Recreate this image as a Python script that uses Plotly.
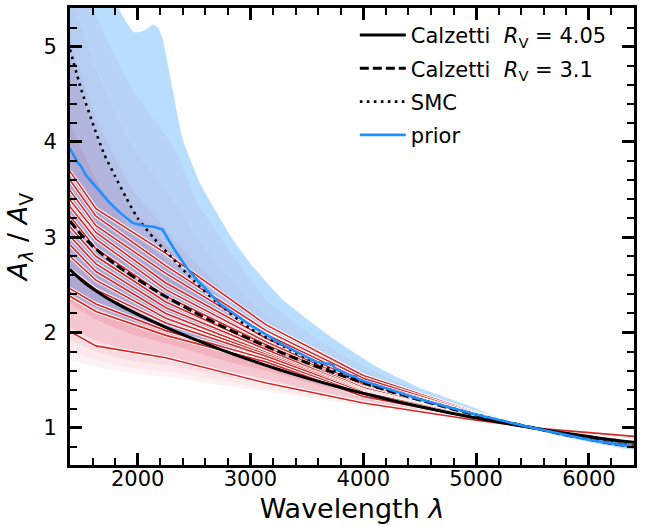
import plotly.graph_objects as go

# ---------------- data ----------------
# Calzetti curves, A_lambda / A_V
cal_wave = [1400, 1500, 1600, 1700, 1800, 1900, 2000, 2200, 2500, 2750, 3000, 3250,
            3500, 3750, 4000, 4250, 4500, 4750, 5000, 5250, 5500, 5750, 6000, 6200, 6400]
cal_405 = [2.661, 2.551, 2.462, 2.384, 2.314, 2.251, 2.191, 2.080, 1.930, 1.815, 1.710, 1.612,
           1.522, 1.439, 1.362, 1.290, 1.223, 1.161, 1.104, 1.050, 1.000, 0.952, 0.908, 0.875, 0.848]
cal_31 = [3.170, 3.027, 2.910, 2.808, 2.717, 2.634, 2.556, 2.411, 2.215, 2.065, 1.927, 1.799,
          1.683, 1.574, 1.473, 1.379, 1.292, 1.211, 1.135, 1.065, 1.000, 0.937, 0.880, 0.836, 0.801]

# SMC curve
smc_wave = [1400, 1500, 1600, 1700, 1800, 1900, 2000, 2150, 2300, 2500, 2700, 3000, 3300,
            3600, 4000, 4500, 5000, 5500, 6000, 6400]
smc_val = [4.97, 4.55, 4.20, 3.88, 3.64, 3.41, 3.20, 2.98, 2.79, 2.54, 2.32, 2.04, 1.85,
           1.67, 1.48, 1.30, 1.14, 1.00, 0.885, 0.81]

# prior median
prior_wave = [1400, 1430, 1470, 1500, 1542, 1600, 1650, 1700, 1745, 1850, 1955, 2056, 2144,
              2220, 2310, 2428, 2543, 2720, 2995, 3288, 3586, 3700, 3731, 3745, 3763, 3800,
              3881, 3930, 3960, 4030, 4500, 5000, 5500, 6000, 6400]
prior_med = [3.93, 3.86, 3.78, 3.74, 3.65, 3.57, 3.50, 3.44, 3.37, 3.25, 3.15, 3.12, 3.11,
             3.08, 2.90, 2.69, 2.53, 2.31, 2.08, 1.87, 1.69, 1.67, 1.66, 1.63, 1.61, 1.60,
             1.55, 1.54, 1.51, 1.48, 1.30, 1.14, 1.00, 0.875, 0.80]

# prior envelope
prior_hi_wave = [1400, 1600, 1837, 1970, 2060, 2133, 2180, 2221, 2310, 2399, 2552, 2847,
                 2995, 3290, 3704, 4118, 4500, 4916, 5388, 5800, 6400]
prior_hi = [7.6, 6.4, 5.39, 5.15, 5.17, 5.23, 5.20, 5.08, 4.55, 4.03, 3.57, 2.97,
            2.73, 2.34, 1.96, 1.64, 1.42, 1.24, 1.03, 0.90, 0.775]
prior_lo_wave = [1400, 1630, 2000, 2250, 2550, 3140, 3600, 4000, 4500, 5000, 5500, 6000, 6400]
prior_lo = [2.41, 2.26, 2.10, 2.02, 1.90, 1.68, 1.52, 1.40, 1.26, 1.13, 1.00, 0.87, 0.83]

# posterior envelopes (nested, outer to inner)
post_wave = [1400, 1630, 1955, 2310, 2552, 2850, 3143, 3600, 4000, 4500, 5000, 5500, 6000, 6400]
post1_hi = [6.4, 5.32, 4.55, 3.96, 3.32, 2.80, 2.34, 1.92, 1.65, 1.38, 1.18, 1.0, 0.86, 0.79]
post1_lo = [1.71, 1.64, 1.57, 1.53, 1.48, 1.43, 1.38, 1.30, 1.23, 1.15, 1.08, 1.0, 0.93, 0.90]
post2_hi = [5.6, 4.75, 3.95, 3.40, 2.95, 2.52, 2.16, 1.80, 1.57, 1.34, 1.16, 1.0, 0.87, 0.80]
post2_lo = [1.80, 1.71, 1.63, 1.58, 1.53, 1.47, 1.41, 1.32, 1.25, 1.16, 1.08, 1.0, 0.925, 0.895]
post3_hi = [5.1, 4.25, 3.50, 3.00, 2.68, 2.34, 2.06, 1.74, 1.53, 1.32, 1.15, 1.0, 0.875, 0.81]
post3_lo = [1.92, 1.80, 1.70, 1.65, 1.59, 1.52, 1.46, 1.35, 1.27, 1.17, 1.09, 1.0, 0.92, 0.89]
post4_hi = [4.9, 4.05, 3.30, 2.85, 2.56, 2.25, 2.00, 1.70, 1.50, 1.30, 1.14, 1.0, 0.88, 0.815]
post4_lo = [2.05, 1.92, 1.80, 1.73, 1.66, 1.58, 1.51, 1.38, 1.29, 1.18, 1.09, 1.0, 0.915, 0.885]
post5_hi = [4.2, 3.60, 3.05, 2.70, 2.45, 2.17, 1.95, 1.67, 1.48, 1.29, 1.14, 1.0, 0.885, 0.82]
post5_lo = [2.30, 2.14, 1.98, 1.87, 1.78, 1.68, 1.60, 1.45, 1.33, 1.20, 1.10, 1.0, 0.91, 0.88]

# posterior sample curves (red)
sample_wave = [1400, 1630, 2250, 3140, 4000, 5000, 5500, 6400]
samples = [
    [3.69, 3.30, 2.83, 2.08, 1.55, 1.16, 1.0, 0.86],
    [3.60, 3.22, 2.70, 2.02, 1.52, 1.15, 1.0, 0.865],
    [3.49, 3.12, 2.62, 1.98, 1.49, 1.14, 1.0, 0.87],
    [3.39, 3.05, 2.52, 1.94, 1.47, 1.14, 1.0, 0.875],
    [3.32, 2.98, 2.45, 1.90, 1.45, 1.13, 1.0, 0.875],
    [3.22, 2.88, 2.38, 1.87, 1.43, 1.13, 1.0, 0.88],
    [3.11, 2.80, 2.32, 1.84, 1.42, 1.12, 1.0, 0.88],
    [3.01, 2.72, 2.26, 1.82, 1.40, 1.12, 1.0, 0.885],
    [2.92, 2.64, 2.20, 1.79, 1.39, 1.12, 1.0, 0.885],
    [2.80, 2.55, 2.15, 1.77, 1.38, 1.11, 1.0, 0.89],
    [2.66, 2.45, 2.10, 1.75, 1.37, 1.11, 1.0, 0.89],
    [2.46, 2.30, 2.02, 1.72, 1.35, 1.10, 1.0, 0.895],
    [2.38, 2.22, 1.97, 1.69, 1.33, 1.10, 1.0, 0.90],
    [2.01, 1.86, 1.735, 1.47, 1.26, 1.08, 1.0, 0.91],
]

x_ticks = [2000, 3000, 4000, 5000, 6000]
y_ticks = [1, 2, 3, 4, 5]

# ---------------- figure ----------------
FONT = "DejaVu Sans"
fig = go.Figure()


def band(wlo, lo, whi, hi, color):
    fig.add_trace(go.Scatter(
        x=list(wlo) + list(whi)[::-1], y=list(lo) + list(hi)[::-1],
        fill="toself", fillcolor=color, mode="lines",
        line=dict(width=0, shape="spline", smoothing=0.5),
        hoverinfo="skip", showlegend=False))


post_bands = [(post1_lo, post1_hi, 0.07), (post2_lo, post2_hi, 0.05), (post3_lo, post3_hi, 0.08),
              (post4_lo, post4_hi, 0.13), (post5_lo, post5_hi, 0.16)]
for lo, hi, a in post_bands:
    band(post_wave, lo, post_wave, hi, f"rgba(225,70,100,{a})")

band(prior_lo_wave, prior_lo, prior_hi_wave, prior_hi, "rgba(30,144,255,0.31)")

for s in samples:
    fig.add_trace(go.Scatter(x=sample_wave, y=s, mode="lines",
                             line=dict(color="white", width=3.6),
                             hoverinfo="skip", showlegend=False))
    fig.add_trace(go.Scatter(x=sample_wave, y=s, mode="lines",
                             line=dict(color="#d62728", width=1.6),
                             hoverinfo="skip", showlegend=False))

fig.add_trace(go.Scatter(x=cal_wave, y=cal_405, mode="lines", legendgroup="a",
                         line=dict(color="black", width=3, shape="spline", smoothing=0.6),
                         name="Calzetti  <i>R</i><sub>V</sub> = 4.05"))
fig.add_trace(go.Scatter(x=cal_wave, y=cal_31, mode="lines", legendgroup="b",
                         line=dict(color="black", width=3, dash="9px,4px", shape="spline", smoothing=0.6),
                         name="Calzetti  <i>R</i><sub>V</sub> = 3.1"))
fig.add_trace(go.Scatter(x=smc_wave, y=smc_val, mode="lines", legendgroup="c",
                         line=dict(color="black", width=2.6, dash="2.6px,4.4px", shape="spline", smoothing=0.6),
                         name="SMC"))
fig.add_trace(go.Scatter(x=prior_wave, y=prior_med, mode="lines", legendgroup="d",
                         line=dict(color="#1e90ff", width=2.6),
                         name="prior"))

axis_common = dict(
    showline=True, linecolor="black", linewidth=3, mirror="allticks",
    ticks="inside", ticklen=12, tickwidth=3, tickcolor="black",
    showgrid=False, zeroline=False,
    tickfont=dict(family=FONT, size=21, color="black"),
)

fig.update_xaxes(
    range=[1400, 6400], tickvals=x_ticks, ticktext=[str(v) for v in x_ticks],
    minor=dict(dtick=200, tick0=0, ticks="inside", ticklen=7, tickwidth=2, tickcolor="black"),
    title=dict(text="Wavelength <i>λ</i>", font=dict(family=FONT, size=27, color="black"), standoff=9),
    ticklabelstandoff=-7,
    **axis_common)
fig.update_yaxes(
    range=[0.61, 5.405], tickvals=y_ticks, ticktext=[str(v) for v in y_ticks],
    minor=dict(dtick=0.2, tick0=0, ticks="inside", ticklen=7, tickwidth=2, tickcolor="black"),
    title=dict(text="<i>A</i><sub><i>λ</i></sub> / <i>A</i><sub>V</sub>",
               font=dict(family=FONT, size=27, color="black"), standoff=8),
    ticklabelstandoff=6,
    **axis_common)

fig.update_layout(
    width=652, height=527,
    margin=dict(l=70, r=18, t=8, b=62, autoexpand=False),
    paper_bgcolor="white", plot_bgcolor="white",
    font=dict(family=FONT, color="black"),
    legend=dict(x=0.505, y=0.985, xanchor="left", yanchor="top",
                bgcolor="rgba(0,0,0,0)", font=dict(family=FONT, size=21, color="black"),
                itemwidth=46, tracegroupgap=3),
)

fig.write_html("out.html", config={"displayModeBar": False},
               post_script="document.body.style.margin='0px';document.body.style.overflow='hidden';")
